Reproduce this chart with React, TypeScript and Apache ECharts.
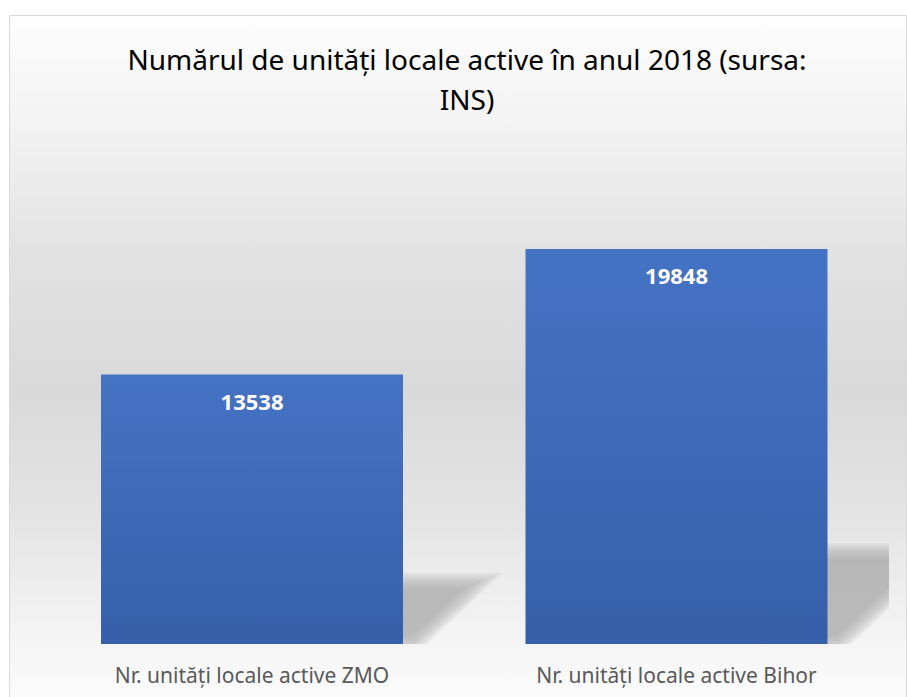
import React, { useEffect, useRef } from "react";
import * as echarts from "echarts";

const categories = ["Nr. unități locale active ZMO", "Nr. unități locale active Bihor"];
const values = [13538, 19848];
const titleText = "Numărul de unități locale active în anul 2018 (sursa:\nINS)";

const FONT = "'Noto Sans', sans-serif";

export default function App() {
  const ref = useRef<HTMLDivElement>(null);
  useEffect(() => {
    if (!ref.current) return;
    const chart = echarts.init(ref.current, null, { renderer: "svg" });
    const BAR_W = 302;
    chart.setOption({
      animation: false,
      backgroundColor: "#ffffff",
      graphic: [
        {
          type: "rect",
          z: -10,
          silent: true,
          shape: { x: 9.5, y: 15.5, width: 897, height: 700 },
          style: {
            stroke: "#d9d9d9",
            lineWidth: 1,
            fill: new echarts.graphic.LinearGradient(0, 0, 0, 1, [
              { offset: 0, color: "#fdfdfd" },
              { offset: 0.164, color: "#f2f2f2" },
              { offset: 0.34, color: "#e2e2e2" },
              { offset: 0.536, color: "#d9d9d9" },
              { offset: 0.72, color: "#e4e4e4" },
              { offset: 0.864, color: "#f2f2f2" },
              { offset: 1, color: "#fdfdfd" },
            ]),
          },
        },
      ],
      title: {
        text: titleText,
        left: 462,
        top: 34,
        textAlign: "center",
        textStyle: {
          fontFamily: FONT,
          fontSize: 28,
          fontWeight: "normal",
          color: "#000000",
          lineHeight: 40,
        },
      },
      grid: { left: 39.75, right: 18.25, top: 146.5, bottom: 53 },
      xAxis: {
        type: "category",
        data: categories,
        axisLine: { show: false },
        axisTick: { show: false },
        axisLabel: {
          color: "#595959",
          fontFamily: FONT,
          fontSize: 21,
          margin: 20,
          interval: 0,
        },
      },
      yAxis: {
        type: "value",
        min: 0,
        max: 25000,
        show: false,
        splitLine: { show: false },
      },
      series: [
        {
          type: "custom",
          z: 1,
          clip: true,
          silent: true,
          data: values.map((v, i) => [i, v]),
          renderItem: (params: any, api: any) => {
            const xi = api.value(0);
            const v = api.value(1);
            const base = api.coord([xi, 0]);
            const top = api.coord([xi, v]);
            const h = base[1] - top[1];
            const off = 12;
            const dx = 0.25 * h;
            const dy = 0.235 * h;
            const x0 = base[0] - BAR_W / 2 + off;
            const x1 = base[0] + BAR_W / 2 + off;
            const slope = dx / dy;
            const hf = Math.sqrt(dx * dx + dy * dy) / dy;
            const children: any[] = [];
            const layers = 7;
            const step = 2.6;
            for (let k = 0; k < layers; k++) {
              const d = (k - (layers - 1) / 2) * step;
              const s = d * hf;
              const yb = base[1] - d;
              const yt = base[1] - dy + d;
              const lx = (y: number) => x0 + s + (base[1] - y) * slope;
              const rx = (y: number) => x1 - s + (base[1] - y) * slope;
              children.push({
                type: "polygon",
                shape: {
                  points: [
                    [lx(yb), yb],
                    [rx(yb), yb],
                    [rx(yt), yt],
                    [lx(yt), yt],
                  ],
                },
                style: { fill: "rgba(165,165,165,0.17)" },
              });
            }
            return { type: "group", children };
          },
        },
        {
          type: "bar",
          z: 3,
          data: values,
          barWidth: BAR_W,
          itemStyle: {
            color: new echarts.graphic.LinearGradient(0, 0, 0, 1, [
              { offset: 0, color: "#4573c4" },
              { offset: 1, color: "#355fa9" },
            ]),
          },
          label: {
            show: true,
            position: "insideTop",
            distance: 15,
            color: "#ffffff",
            fontFamily: FONT,
            fontWeight: "bold",
            fontSize: 22,
          },
        },
      ],
    });
    return () => chart.dispose();
  }, []);
  return (
    <div
      ref={ref}
      style={{ position: "absolute", left: 0, top: 0, width: 907, height: 697 }}
    />
  );
}
